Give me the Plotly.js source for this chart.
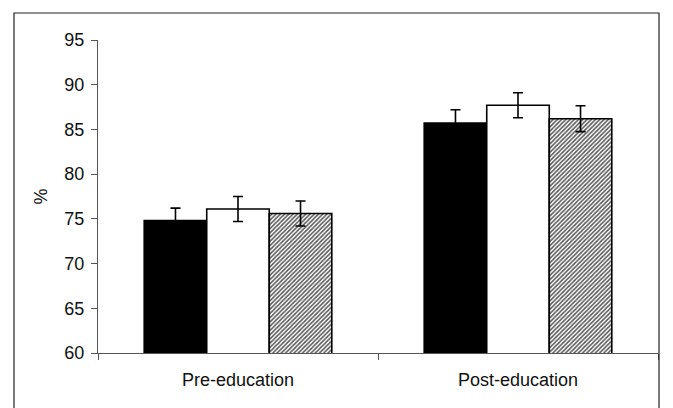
<!DOCTYPE html>
<html>
<head>
<meta charset="utf-8">
<script src="https://cdn.plot.ly/plotly-3.0.1.min.js"></script>
<style>html,body{margin:0;padding:0;background:#fff;}#chart{width:673px;height:408px;}</style>
</head>
<body>
<div id="chart"></div>
<script>
var categories = ["Pre-education", "Post-education"];
var seriesA = [74.8, 85.7];
var seriesB = [76.1, 87.7];
var seriesC = [75.6, 86.2];
var errA = [1.4, 1.5];
var errB = [1.4, 1.4];
var errC = [1.4, 1.45];
var yTicks = [60, 65, 70, 75, 80, 85, 90, 95];

function errBar(arr) {
  return {type: 'data', array: arr, visible: true, color: '#000', thickness: 1.6, width: 5};
}
var lineStyle = {color: '#000', width: 1.6};

var traces = [
  {type: 'bar', x: categories, y: seriesA, marker: {color: '#000', line: lineStyle}, error_y: errBar(errA)},
  {type: 'bar', x: categories, y: seriesB, marker: {color: '#fff', line: lineStyle}, error_y: errBar(errB)},
  {type: 'bar', x: categories, y: seriesC, marker: {color: '#fff', line: lineStyle,
    pattern: {shape: '/', fgcolor: '#555', bgcolor: '#fff', size: 3, solidity: 0.5}}, error_y: errBar(errC)}
];

var layout = {
  width: 673, height: 408,
  margin: {l: 98, r: 15, t: 40, b: 55},
  paper_bgcolor: '#fff', plot_bgcolor: '#fff',
  showlegend: false,
  barmode: 'group', bargap: 0.33, bargroupgap: 0,
  font: {family: 'Liberation Sans, Arial, sans-serif', color: '#111'},
  xaxis: {
    showline: true, linecolor: '#555', linewidth: 1,
    ticks: 'outside', tickson: 'boundaries', ticklen: 6, tickcolor: '#555', tickwidth: 1,
    tickfont: {size: 18}, ticklabelstandoff: 10, showgrid: false, zeroline: false
  },
  yaxis: {
    range: [60, 95], tickvals: yTicks, ticktext: yTicks.map(String),
    showline: true, linecolor: '#555', linewidth: 1,
    ticks: 'outside', ticklen: 6, tickcolor: '#555', tickwidth: 1,
    tickfont: {size: 18}, ticklabelstandoff: 3, showgrid: false, zeroline: false,
    title: {text: '%', font: {size: 18}, standoff: 12}
  },
  shapes: [
    {type: 'rect', xref: 'paper', yref: 'paper', x0: -0.15, x1: 1.0018, y0: -0.3, y1: 1.0863,
     line: {color: '#222', width: 1.2}, fillcolor: 'rgba(0,0,0,0)'}
  ]
};

Plotly.newPlot('chart', traces, layout, {displayModeBar: false, staticPlot: true});
</script>
</body>
</html>
